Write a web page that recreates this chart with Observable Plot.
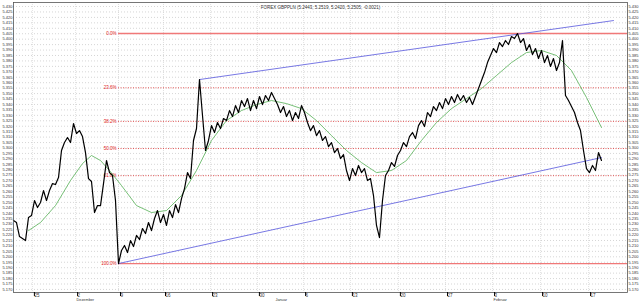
<!DOCTYPE html>
<html><head><meta charset="utf-8">
<script src="https://cdn.jsdelivr.net/npm/d3@7"></script>
<script src="https://cdn.jsdelivr.net/npm/@observablehq/plot@0.6"></script>
<style>body{margin:0;background:#fff}</style>
</head><body><div id="chart"></div>
<script>
const title = "FOREX GBPPLN (5.2443, 5.2519, 5.2420, 5.2505, -0.0021)";
// price series: bar index, price
const priceBars = [0,1,2,3,4,5,6,7,8,9,10,11,12,13,14,15,16,17,18,19,20,21,22,23,24,25,26,27,28,29,30,31,32,33,34,35,36,37,38,39,40,41,42,43,44,45,46,47,48,49,50,51,52,53,54,55,56,57,58,59,60,61,62,63,64,65,66,67,68,69,70,71,72,73,74,75,76,77,78,79,80,81,82,83,84,85,86,87,88,89,90,91,92,93,94,95,96,97,98,99,100,101,102,103,104,105,106,107,108,109,110,111,112,113,114,115,116,117,118,119,120,121,122,123,124,125,126,127,128,129,130,131,132,133,134,135,136,137,138,139,140,141,142,143,144,145,146,147,148,149,150,151,152,153,154,155,156,157,158,159,160,161,162,163,164,165,166,167,168,169,170,171,172,173,174,175,176,177,178,179,180,181,182,183,184,185,186,187,188,189,190,191,192,193,194,195,196];
const priceValues = [5.2334,5.2315,5.2186,5.2168,5.2149,5.2361,5.2379,5.2517,5.2453,5.2499,5.2609,5.2517,5.2609,5.2673,5.2664,5.2728,5.2977,5.3050,5.3096,5.3050,5.3225,5.3133,5.3160,5.3105,5.2958,5.2719,5.2692,5.2407,5.2471,5.2471,5.2673,5.2885,5.2774,5.2747,5.2517,5.1938,5.2058,5.2104,5.2039,5.2149,5.2094,5.2196,5.2159,5.2260,5.2214,5.2315,5.2241,5.2352,5.2425,5.2315,5.2389,5.2288,5.2425,5.2361,5.2480,5.2407,5.2535,5.2627,5.2774,5.2719,5.3069,5.3179,5.3629,5.3298,5.2977,5.3069,5.3206,5.3142,5.3234,5.3179,5.3271,5.3252,5.3344,5.3289,5.3390,5.3326,5.3436,5.3381,5.3454,5.3344,5.3436,5.3362,5.3473,5.3399,5.3482,5.3436,5.3510,5.3454,5.3399,5.3326,5.3381,5.3289,5.3344,5.3252,5.3326,5.3271,5.3390,5.3326,5.3234,5.3160,5.3206,5.3114,5.3160,5.3069,5.3105,5.3013,5.3050,5.2958,5.2995,5.2903,5.2940,5.2793,5.2701,5.2811,5.2747,5.2839,5.2774,5.2811,5.2701,5.2719,5.2563,5.2288,5.2177,5.2517,5.2747,5.2793,5.2866,5.2830,5.2931,5.2977,5.3050,5.3013,5.3105,5.3142,5.3087,5.3206,5.3252,5.3197,5.3326,5.3289,5.3381,5.3344,5.3418,5.3362,5.3454,5.3399,5.3473,5.3418,5.3491,5.3436,5.3482,5.3418,5.3464,5.3399,5.3473,5.3546,5.3620,5.3693,5.3785,5.3850,5.3914,5.3877,5.3969,5.3932,5.3987,5.3951,5.4024,5.4006,5.4052,5.3969,5.4006,5.3896,5.3951,5.3859,5.3914,5.3822,5.3896,5.3785,5.3850,5.3749,5.3822,5.3712,5.3785,5.3987,5.3482,5.3436,5.3381,5.3326,5.3234,5.3160,5.2977,5.2811,5.2774,5.2839,5.2793,5.2958,5.2885];
// moving average (green)
const maBars = [5,9,14,19,23,26,29,32,36,41,46,51,56,61,66,71,76,81,86,91,96,101,106,111,116,121,126,131,136,141,146,151,156,161,166,171,176,181,186,191,196];
const maValues = [5.2241,5.2315,5.2471,5.2701,5.2857,5.2931,5.2885,5.2793,5.2655,5.2471,5.2407,5.2425,5.2563,5.2793,5.3069,5.3252,5.3344,5.3399,5.3436,5.3408,5.3362,5.3252,5.3114,5.2977,5.2866,5.2774,5.2793,5.2885,5.3069,5.3234,5.3362,5.3454,5.3546,5.3666,5.3785,5.3877,5.3896,5.3850,5.3712,5.3464,5.3188];
// trend channel lines
const upperTrend = [[62, 5.3629], [200, 5.4171]];
const lowerTrend = [[35, 5.1938], [196, 5.2912]];
// fibonacci retracement
const fibHigh = 5.4052, fibLow = 5.1938, fibStartBar = 35;
const fibLevels = [0, 0.236, 0.382, 0.5, 0.618, 1];
const fibLabels = ["0.0%", "23.6%", "38.2%", "50.0%", "61.8%", "100.0%"];
// axes
const yTicks = d3.range(5170, 5431, 5).map(d => d / 1000);
const xTickBars = [6.3, 20.7, 35, 50, 65.7, 81.3, 96.7, 112.3, 128.3, 144, 159.7, 175.7, 191.7];
const xTickLabels = ["25","2","9","16","23","30","6","13","20","27","3","10","17"];
const monthBars = [20.7, 87, 159.7];
const monthLabels = ["Dezember", "Januar", "Februar"];

const price = priceBars.map((b, i) => ({b, v: priceValues[i]}));
const ma = maBars.map((b, i) => ({b, v: maValues[i]}));
const fib = fibLevels.map((f, i) => ({v: fibHigh - f * (fibHigh - fibLow), label: fibLabels[i], solid: f === 0 || f === 1}));
const xMax = 204.67;
const tf = d3.format(".3f");

const chart = Plot.plot({
  width: 640, height: 302,
  marginLeft: 13, marginRight: 13, marginTop: 2, marginBottom: 10,
  style: {fontFamily: "Liberation Sans", fontSize: "4.5px", background: "#fff"},
  x: {domain: [0, xMax], label: null},
  y: {domain: [5.1672, 5.4337], label: null},
  marks: [
    Plot.ruleY(yTicks, {stroke: "#bbb", strokeDasharray: "1,2", strokeWidth: 0.6}),
    Plot.ruleX(xTickBars, {stroke: "#ccc", strokeDasharray: "1,1", strokeWidth: 0.6}),
    Plot.ruleY(fib.filter(d => !d.solid), {y: "v", x1: fibStartBar, x2: xMax, stroke: "#e03030", strokeDasharray: "1,1.5", strokeWidth: 0.8}),
    Plot.ruleY(fib.filter(d => d.solid), {y: "v", x1: fibStartBar, x2: xMax, stroke: "#f07878", strokeWidth: 1.3}),
    Plot.text(fib, {x: fibStartBar, y: "v", text: "label", textAnchor: "end", dx: -2, fill: "#e02020", fontSize: 4.5}),
    Plot.line(ma, {x: "b", y: "v", stroke: "#55b055", strokeWidth: 0.8}),
    Plot.line(upperTrend, {x: d => d[0], y: d => d[1], stroke: "#5555dd", strokeWidth: 0.8}),
    Plot.line(lowerTrend, {x: d => d[0], y: d => d[1], stroke: "#5555dd", strokeWidth: 0.8}),
    Plot.line(price, {x: "b", y: "v", stroke: "#000", strokeWidth: 1.2}),
    Plot.frame({stroke: "#555", strokeWidth: 0.8}),
    Plot.axisY({anchor: "left", label: null, ticks: yTicks, tickFormat: tf, tickSize: 0, tickPadding: 1, fontSize: 4, fill: "#333"}),
    Plot.axisY({anchor: "right", label: null, ticks: yTicks, tickFormat: tf, tickSize: 0, tickPadding: 1, fontSize: 4, fill: "#333"}),
    Plot.axisX({anchor: "bottom", label: null, ticks: xTickBars, tickFormat: (d, i) => xTickLabels[i], tickSize: 4, tickPadding: -2.5, fontSize: 4.5, fill: "#333", textAnchor: "start", dx: 2}),
    Plot.text(monthLabels, {x: (d, i) => monthBars[i], frameAnchor: "bottom", dy: 8.8, text: d => d, textAnchor: "start", dx: 1, fontSize: 3.8, fill: "#333"}),
    Plot.text([title], {frameAnchor: "top", dy: 3, text: d => d, fontSize: 4.5, fill: "#333"})
  ]
});
document.getElementById("chart").appendChild(chart);
</script>
</body></html>
